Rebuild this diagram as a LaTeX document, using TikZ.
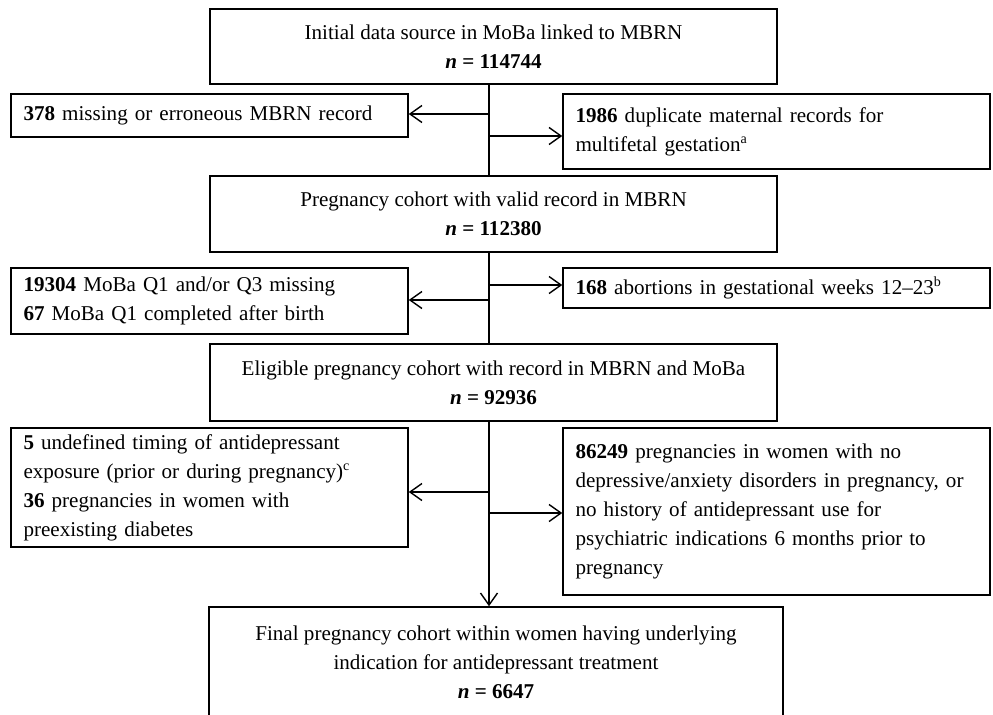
\documentclass[tikz,border=0pt]{standalone}
\usepackage{fontspec}
\setmainfont{Liberation Serif}
\usetikzlibrary{arrows.meta}
\begin{document}
\begin{tikzpicture}[
  x=0.02cm, y=-0.02cm,
  every node/.style={draw, line width=0.9pt, font=\fontsize{12}{16.5}\selectfont},
  mainbox/.style={minimum width=11.34cm, align=center, inner sep=2pt},
  sidebox/.style={text width=7.44cm, align=left, inner xsep=0.25cm, inner ysep=2pt},
  widebox/.style={text width=8.04cm, align=left, inner xsep=0.25cm, inner ysep=2pt},
  trunkline/.style={draw, line width=0.8pt},
  arr/.style={trunkline, -{Straight Barb[length=2.4mm,width=3.4mm]}}
]
\useasboundingbox (0,0) rectangle (993,714);

\node[mainbox, minimum height=1.5cm] (initial) at (493.5,46.5)
  {Initial data source in MoBa linked to MBRN\\ \textbf{\textit{n} = 114744}};
\node[sidebox, minimum height=0.86cm] (missing) at (209.5,115.5)
  {\textbf{378} missing or erroneous MBRN record};
\node[widebox, minimum height=1.5cm] (duplicate) at (776.5,131.5)
  {\textbf{1986} duplicate maternal records for\\ multifetal gestation\textsuperscript{a}};

\node[mainbox, minimum height=1.52cm] (valid) at (493.5,214)
  {Pregnancy cohort with valid record in MBRN\\ \textbf{\textit{n} = 112380}};
\node[sidebox, minimum height=1.32cm] (question) at (209.5,301)
  {\textbf{19304} MoBa Q1 and/or Q3 missing\\ \textbf{67} MoBa Q1 completed after birth};
\node[widebox, minimum height=0.8cm] (abortion) at (776.5,288)
  {\textbf{168} abortions in gestational weeks 12--23\textsuperscript{b}};

\node[mainbox, minimum height=1.54cm] (eligible) at (493.5,382.5)
  {Eligible pregnancy cohort with record in MBRN and MoBa\\ \textbf{\textit{n} = 92936}};
\node[sidebox, minimum height=2.38cm] (timing) at (209.5,487.5)
  {\textbf{5} undefined timing of antidepressant\\ exposure (prior or during pregnancy)\textsuperscript{c}\\
   \textbf{36} pregnancies in women with\\ preexisting diabetes};
\node[widebox, minimum height=3.34cm] (noindic) at (776.5,511.5)
  {\textbf{86249} pregnancies in women with no\\ depressive/anxiety disorders in pregnancy, or\\
   no history of antidepressant use for\\ psychiatric indications 6 months prior to\\ pregnancy};

\node[mainbox, minimum width=11.48cm, minimum height=2.2cm] (final) at (496,662)
  {Final pregnancy cohort within women having underlying\\ indication for antidepressant treatment\\
   \textbf{\textit{n} = 6647}};

% trunk
\coordinate (trunk) at (489,0);
\coordinate (j1) at (489,114);
\coordinate (j2) at (489,136);
\coordinate (j3) at (489,285);
\coordinate (j4) at (489,300);
\coordinate (j5) at (489,492);
\coordinate (j6) at (489,513);

\draw[trunkline] (initial.south -| trunk) -- (valid.north -| trunk);
\draw[trunkline] (valid.south -| trunk) -- (eligible.north -| trunk);
\draw[arr] (eligible.south -| trunk) -- (final.north -| trunk);

\draw[arr] (j1) -- (j1 -| missing.east);
\draw[arr] (j2) -- (j2 -| duplicate.west);
\draw[arr] (j3) -- (j3 -| abortion.west);
\draw[arr] (j4) -- (j4 -| question.east);
\draw[arr] (j5) -- (j5 -| timing.east);
\draw[arr] (j6) -- (j6 -| noindic.west);
\end{tikzpicture}
\end{document}
